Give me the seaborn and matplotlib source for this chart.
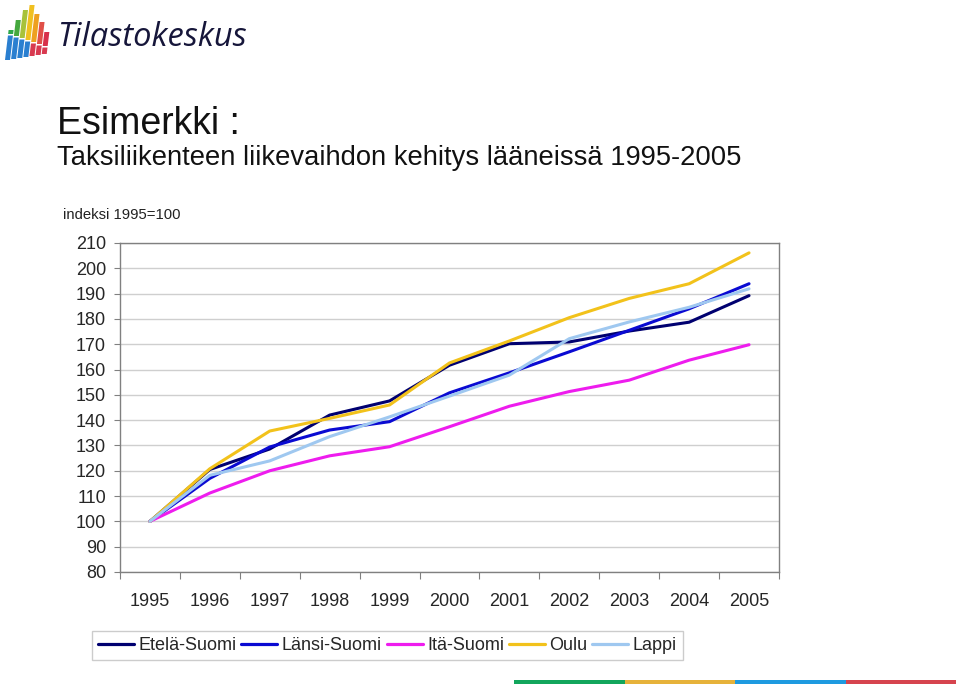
import numpy as np
import pandas as pd
import seaborn as sns
import matplotlib.pyplot as plt
from matplotlib.patches import Polygon, Rectangle

vuodet = ['1995', '1996', '1997', '1998', '1999', '2000', '2001', '2002', '2003', '2004', '2005']
alueet = ['Etelä-Suomi', 'Länsi-Suomi', 'Itä-Suomi', 'Oulu', 'Lappi']
etela = [100, 120.5, 128.6, 142.0, 147.6, 161.7, 170.2, 170.9, 175.2, 178.7, 189.2]
lansi = [100, 117.0, 129.4, 136.1, 139.4, 150.8, 158.7, 167.0, 175.5, 184.0, 193.9]
ita = [100, 111.2, 120.0, 125.9, 129.5, 137.4, 145.5, 151.3, 155.8, 163.7, 169.8]
oulu = [100, 120.8, 135.7, 140.7, 146.0, 162.6, 171.3, 180.5, 188.1, 193.9, 206.1]
lappi = [100, 118.2, 123.9, 133.5, 141.3, 149.5, 157.8, 172.2, 178.8, 184.6, 191.9]
varit = ['#000070', '#0a0ad2', '#ee1cee', '#f2c21b', '#9fc8f0']

sarjat = {'Etelä-Suomi': etela, 'Länsi-Suomi': lansi, 'Itä-Suomi': ita,
          'Oulu': oulu, 'Lappi': lappi}
rivit = []
for alue in alueet:
    for i, v in enumerate(sarjat[alue]):
        rivit.append({'vuosi': i, 'indeksi': v, 'alue': alue})
df = pd.DataFrame(rivit)

sns.set_theme(style='white')
plt.rcParams['font.family'] = ['Liberation Sans', 'DejaVu Sans']

fig = plt.figure(figsize=(9.59, 6.87), dpi=100)
ax = fig.add_axes([0.1251, 0.1674, 0.6872, 0.4789])

sns.lineplot(data=df, x='vuosi', y='indeksi', hue='alue', hue_order=alueet,
             palette=varit, linewidth=2.2, ax=ax, legend=False)

ax.set_xlim(-0.5, 10.5)
ax.set_ylim(80, 210)
ax.set_yticks(np.arange(80, 211, 10))
ax.yaxis.grid(True, color='#cfcfcf', linewidth=1.0)
ax.set_axisbelow(True)
ax.tick_params(axis='y', length=4, width=0.8, color='#808080', pad=6, labelsize=13, left=True)

ax.set_xticks(np.arange(-0.5, 10.6, 1.0))
ax.set_xticklabels([])
ax.set_xticks(range(len(vuodet)), minor=True)
ax.set_xticklabels(vuodet, minor=True)
ax.tick_params(axis='x', which='major', length=5, width=0.8, color='#808080', bottom=True)
ax.tick_params(axis='x', which='minor', length=0, pad=15, labelsize=13)
ax.set_xlabel('')
ax.set_ylabel('')
for s in ax.spines.values():
    s.set_color('#808080')
    s.set_linewidth(1.0)

kahvat = [plt.Line2D([], [], color=c, linewidth=2.3) for c in varit]
leg = fig.legend(kahvat, alueet, loc='center', bbox_to_anchor=(0.404, 0.0604), ncol=5,
                 fontsize=13, handlelength=2.0, handletextpad=0.25, columnspacing=0.25,
                 frameon=True, fancybox=False, borderpad=0.35, edgecolor='#c0c0c0')
leg.get_frame().set_linewidth(1.0)

fig.text(0.059, 0.805, 'Esimerkki :', fontsize=27, color='#111111', va='baseline')
fig.text(0.059, 0.76, 'Taksiliikenteen liikevaihdon kehitys lääneissä 1995-2005',
         fontsize=19.7, color='#111111', va='baseline')
fig.text(0.066, 0.681, 'indeksi 1995=100', fontsize=10.7, color='#222222', va='baseline')

# logo
fig.text(0.059, 0.945, 'Tilastokeskus', fontsize=23.5, fontstyle='italic', family='Open Sans',
         color='#16163a', va='center')
W, H = 959.0, 687.0
ylavarit = ['#2ea84a', '#45a83e', '#a8c23a', '#f0c020', '#eea020', '#e05048', '#d8304a']
palkit = [(5, 30), (11, 20), (17, 10), (23, 5), (29, 14), (35, 22), (41, 32)]
for i, (x0, ytop) in enumerate(palkit):
    leveys = 5
    kalt = 0.12
    yala = 60
    ykesk = 34 + i * 2
    def piste(x, y):
        return ((x + (yala - y) * kalt) / W, 1 - y / H)
    ylä = [piste(x0, ykesk), piste(x0 + leveys, ykesk),
           piste(x0 + leveys, ytop), piste(x0, ytop)]
    ala = [piste(x0, yala - i), piste(x0 + leveys, yala - i),
           piste(x0 + leveys, ykesk + 1.5), piste(x0, ykesk + 1.5)]
    fig.patches.append(Polygon(ylä, closed=True, transform=fig.transFigure,
                               facecolor=ylavarit[i], edgecolor='none'))
    fig.patches.append(Polygon(ala, closed=True, transform=fig.transFigure,
                               facecolor='#2a7fd0' if i < 4 else '#d83a50', edgecolor='none'))

# värikaista alareunassa
kaista = ['#12a65c', '#e6b23a', '#1e9ae0', '#d6444e']
for i, c in enumerate(kaista):
    fig.patches.append(Rectangle(((514 + i * 110.5) / W, 1 - 684 / H), 110.5 / W, 4 / H,
                                 transform=fig.transFigure, facecolor=c, edgecolor='none'))

fig.savefig('out.png', dpi=100)
